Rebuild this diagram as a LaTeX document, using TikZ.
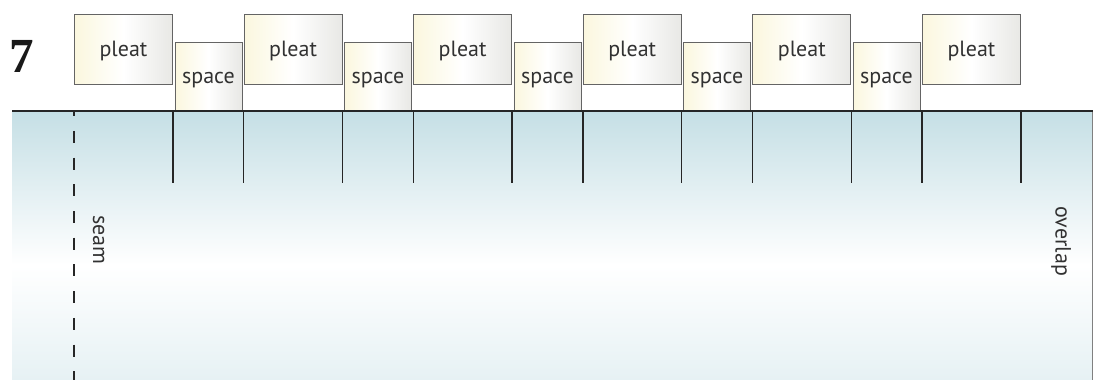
\documentclass[tikz,border=0pt]{standalone}
\usepackage{fontspec}
\setsansfont{PT Sans}
\newfontfamily\numfont{Liberation Serif}
\definecolor{cream}{RGB}{251,247,222}
\definecolor{rgray}{RGB}{232,232,229}
\definecolor{fabtop}{RGB}{197,223,229}
\definecolor{fabbot}{RGB}{230,241,244}
\definecolor{boxline}{RGB}{100,100,100}
\definecolor{inktext}{RGB}{50,50,50}
\tikzset{
  piece/.style={draw=boxline, line width=0.9pt, inner sep=0pt, anchor=north west,
    left color=cream, right color=rgray, middle color=white,
    text height=16pt, text depth=2pt,
    font=\sffamily\fontsize{22}{26}\selectfont, text=inktext},
  pleatbox/.style={piece, minimum width=98pt, minimum height=70pt},
  spacebox/.style={piece, minimum width=67pt, minimum height=69pt},
  fold/.style={line width=1.4pt, black!85},
  lbl/.style={font=\sffamily\fontsize{22}{26}\selectfont, text=inktext, inner sep=0pt}
}
\begin{document}
\begin{tikzpicture}[x=1pt,y=-1pt]
\useasboundingbox (0,0) rectangle (1093,380);
% fabric
\shade[top color=fabtop, bottom color=white] (12,111) rectangle (1093,265);
\shade[top color=white, bottom color=fabbot] (12,265) rectangle (1093,380);
\coordinate (ftr) at (1092.5,111);
\coordinate (fbr) at (1092.5,380);
\draw[line width=1pt, black!50] (ftr) -- (fbr);
% boxes
\foreach \i in {0,...,5} {
  \node[pleatbox] (p\i) at ({74+169.6*\i},14) {pleat};
}
\foreach \j in {0,...,4} {
  \node[spacebox] (s\j) at ({174.5+169.5*\j},42) {space};
}
% top edge
\coordinate (ftl) at (12,111);
\draw[line width=2pt, black!85] (ftl) -- (ftr);
% fold lines
\foreach \i in {0,...,5} {
  \draw[fold] (p\i.east |- ftl) -- ++(0,72);
}
\foreach \i in {1,...,5} {
  \draw[fold] (p\i.west |- ftl) -- ++(0,72);
}
% seam
\coordinate (seamtop) at (74,112);
\coordinate (seambot) at (74,380);
\draw[line width=1.4pt, black!85, dash pattern=on 12pt off 14.7pt, dash phase=7.8pt] (seamtop) -- (seambot);
\node[lbl, rotate=-90] (seam) at (98.5,240) {seam};
\node[lbl, rotate=-90] (overlap) at (1061,241) {overlap};
% number
\node[inner sep=0pt, font=\numfont\bfseries\fontsize{49}{52}\selectfont, text=black!90] (num) at (21.5,56.5) {7};
\end{tikzpicture}
\end{document}
